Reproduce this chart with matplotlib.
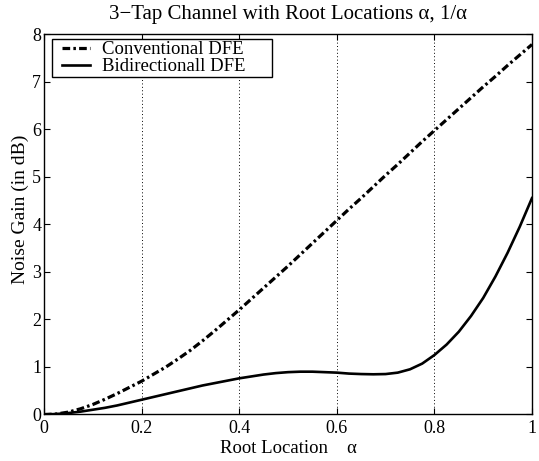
import matplotlib

matplotlib.use("Agg")
import matplotlib.pyplot as plt  # noqa: E402
from matplotlib.patches import Rectangle  # noqa: E402

plt.rcParams["font.family"] = ["Liberation Serif", "DejaVu Serif"]

# Root location alpha (read every 0.025)
alpha = [0.0, 0.025, 0.05, 0.075, 0.1, 0.125, 0.15, 0.175, 0.2, 0.225,
         0.25, 0.275, 0.3, 0.325, 0.35, 0.375, 0.4, 0.425, 0.45, 0.475,
         0.5, 0.525, 0.55, 0.575, 0.6, 0.625, 0.65, 0.675, 0.7, 0.725,
         0.75, 0.775, 0.8, 0.825, 0.85, 0.875, 0.9, 0.925, 0.95, 0.975, 1.0]
# Noise gain (dB), conventional DFE
conventional = [0.0, 0.01, 0.05, 0.12, 0.21, 0.32, 0.44, 0.57, 0.70, 0.85,
                1.0, 1.17, 1.35, 1.55, 1.76, 1.98, 2.2, 2.43, 2.66, 2.89,
                3.12, 3.36, 3.6, 3.84, 4.08, 4.32, 4.55, 4.79, 5.03, 5.26,
                5.5, 5.74, 5.97, 6.2, 6.43, 6.66, 6.89, 7.11, 7.34, 7.56, 7.78]
# Noise gain (dB), bidirectional DFE
bidirectional = [0.0, 0.01, 0.03, 0.06, 0.1, 0.14, 0.19, 0.25, 0.31, 0.37,
                 0.43, 0.49, 0.55, 0.61, 0.66, 0.71, 0.76, 0.80, 0.84, 0.87,
                 0.89, 0.90, 0.90, 0.89, 0.88, 0.86, 0.85, 0.845, 0.85, 0.88,
                 0.95, 1.07, 1.25, 1.47, 1.74, 2.07, 2.45, 2.9, 3.4, 3.95, 4.55]

xticks = [0, 0.2, 0.4, 0.6, 0.8, 1]
xticklabels = ["0", "0.2", "0.4", "0.6", "0.8", "1"]
yticks = list(range(0, 9))

fig = plt.figure(figsize=(5.39, 4.61), dpi=100)
ax = fig.add_axes([0.0816, 0.1009, 0.9054, 0.8253])

for xv in xticks[1:-1]:
    ax.axvline(xv, color="black", lw=0.7, ls=(0, (1, 2.5)), zorder=1)

ax.plot(alpha, conventional, color="black", lw=2.3,
        ls=(0, (2.4, 1.0, 0.8, 1.0)), label="Conventional DFE", zorder=3)
ax.plot(alpha, bidirectional, color="black", lw=1.9, ls="-",
        label="Bidirectionall DFE", zorder=3)

ax.set_xlim(0, 1)
ax.set_ylim(0, 8)
ax.set_xticks(xticks)
ax.set_xticklabels(xticklabels)
ax.set_yticks(yticks)
ax.tick_params(direction="in", top=True, right=True, labelsize=13,
               length=4, width=0.8, pad=2)
ax.tick_params(axis="x", pad=4)
for s in ax.spines.values():
    s.set_linewidth(1.0)

ax.set_title("3\u2212Tap Channel with Root Locations \u03b1, 1/\u03b1",
             fontsize=15, pad=11)
ax.set_xlabel("Root Location    \u03b1", fontsize=13.5, labelpad=2)
ax.set_ylabel("Noise Gain (in dB)", fontsize=14)
ax.yaxis.set_label_coords(-0.031, 0.54)

# legend box drawn as its own frame so the entries can sit inset like MATLAB's
ax.add_patch(Rectangle((0.0164, 0.887), 0.4508, 0.0997, transform=ax.transAxes,
                       facecolor="white", edgecolor="black", lw=1.0, zorder=4))
leg = ax.legend(loc="upper left", fontsize=13.5, frameon=False,
                bbox_to_anchor=(0.0369, 0.9816), borderaxespad=0,
                handlelength=1.5, borderpad=0.0, labelspacing=0.0,
                handletextpad=0.65)
leg.set_zorder(5)

fig.savefig("out.png", dpi=100)
